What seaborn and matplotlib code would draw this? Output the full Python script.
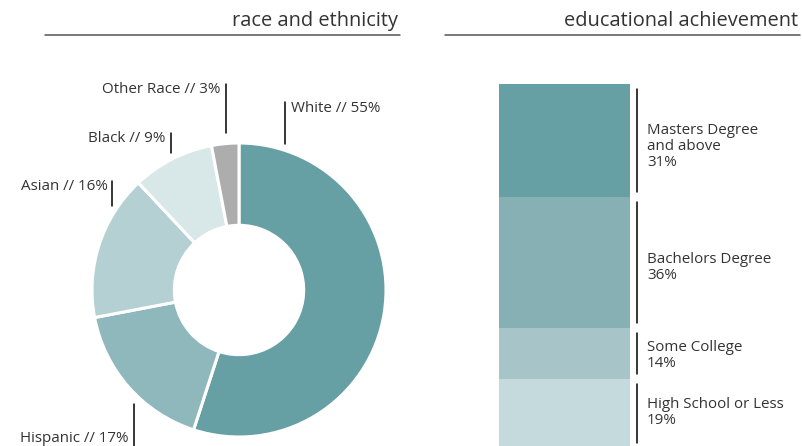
import matplotlib
matplotlib.use("Agg")
import matplotlib.pyplot as plt
import matplotlib.lines as mlines
import numpy as np
import pandas as pd
import seaborn as sns

# race and ethnicity (clockwise from 12 o'clock)
race_labels = ["White", "Hispanic", "Asian", "Black", "Other Race"]
race_values = [55, 17, 16, 9, 3]
race_colors = ["#67a0a4", "#8fb8bc", "#b5d0d3", "#d8e7e8", "#adadad"]

# educational achievement (bottom to top)
edu_labels = ["High School or Less", "Some College", "Bachelors Degree",
              "Masters Degree\nand above"]
edu_values = [19, 14, 36, 31]
edu_colors = ["#c5dadc", "#a7c5c8", "#87b0b5", "#67a0a4"]

sns.set_theme(style="white")
plt.rcParams["font.family"] = ["Open Sans", "DejaVu Sans"]
TXT = "#333333"
FS = 10.9

W, H = 803, 446
fig = plt.figure(figsize=(W / 100, H / 100), dpi=100)

# ---- donut ----
cx, cy, r = 239, 290, 147  # pixel centre and radius
ax1 = fig.add_axes([0, 0, 440 / W, 1])
ax1.pie(race_values, colors=race_colors, startangle=90, counterclock=False,
        radius=1, wedgeprops=dict(width=0.56, edgecolor="white", linewidth=2.2))
ax1.set_aspect("auto")
ax1.set_xlim((0 - cx) / r, (440 - cx) / r)
ax1.set_ylim((cy - H) / r, cy / r)
ax1.axis("off")

# label anchors in donut units: (line x, line y0, line y1, text x, text y, ha)
race_pos = {
    "White": (0.31, 0.99, 1.28, 0.354, 1.238, "left"),
    "Hispanic": (-0.714, -0.776, -1.07, -0.755, -1.007, "right"),
    "Asian": (-0.864, 0.571, 0.741, -0.891, 0.701, "right"),
    "Black": (-0.463, 0.932, 1.068, -0.503, 1.034, "right"),
    "Other Race": (-0.088, 1.068, 1.401, -0.129, 1.367, "right"),
}
for lab, val in zip(race_labels, race_values):
    lx, y0, y1, tx, ty, ha = race_pos[lab]
    ax1.plot([lx, lx], [y0, y1], color="black", lw=1.1, clip_on=False)
    ax1.text(tx, ty, f"{lab} // {val}%", ha=ha, va="center", fontsize=FS,
             color=TXT)

# ---- stacked bar ----
bar_w = 0.8
px_per_unit = 131 / bar_w
ax2 = fig.add_axes([499 / W, (H - 448) / H, (800 - 499) / W, (448 - 84) / H])
cum = np.cumsum(edu_values)
df = pd.DataFrame({"cum": cum, "label": edu_labels})
for i in range(len(df) - 1, -1, -1):
    sns.barplot(x=[0], y=[df["cum"][i]], color=edu_colors[i], width=bar_w,
                saturation=1, linewidth=0, ax=ax2, native_scale=True)
ax2.set_xlim(-bar_w / 2, -bar_w / 2 + 301 / px_per_unit)
ax2.set_ylim(0, 100)
ax2.axis("off")

line_x = -bar_w / 2 + (637 - 499) / px_per_unit
text_x = -bar_w / 2 + (647 - 499) / px_per_unit
text_nudge = [0.3, -0.6, -1.4, -1.6]  # small vertical tweaks, bar units
bottoms = cum - np.array(edu_values)
for lab, val, b, t, dy in zip(edu_labels, edu_values, bottoms, cum, text_nudge):
    ax2.plot([line_x, line_x], [b + 1.4, min(t - 1.4, 98.6)], color="black",
             lw=1.1, clip_on=False)
    ax2.text(text_x, (b + t) / 2 + dy, f"{lab}\n{val}%", ha="left",
             va="center", fontsize=FS, color=TXT, linespacing=1.08)

# ---- headers ----
for txt, x0, x1 in [("race and ethnicity", 45, 400),
                    ("educational achievement", 445, 800)]:
    fig.text((x1 - 2) / W, (H - 21) / H, txt, ha="right", va="center",
             fontsize=14.4, color=TXT)
    fig.add_artist(mlines.Line2D([x0 / W, x1 / W], [(H - 35) / H] * 2,
                                 color="#555555", lw=1.1))

fig.savefig("out.png", dpi=100)
